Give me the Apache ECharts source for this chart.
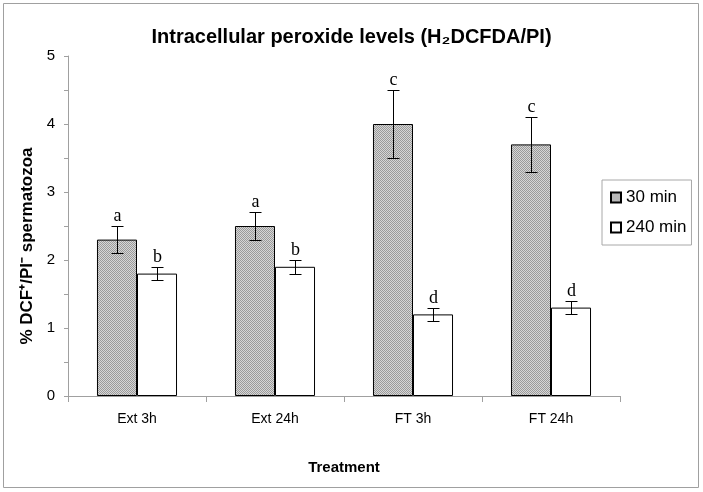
<!DOCTYPE html>
<html><head><meta charset="utf-8">
<script src="https://cdn.jsdelivr.net/npm/echarts@6/dist/echarts.min.js"></script>
<style>html,body{margin:0;padding:0;background:#fff}#c{width:703px;height:492px}</style>
</head><body><div id="c"></div>
<script>
const categories = ['Ext 3h', 'Ext 24h', 'FT 3h', 'FT 24h'];
const seriesNames = ['30 min', '240 min'];
const values30 = [2.3, 2.5, 4.0, 3.7];
const values240 = [1.8, 1.9, 1.2, 1.3];
const err30 = [0.2, 0.2, 0.5, 0.4];
const err240 = [0.1, 0.1, 0.1, 0.1];
const letters30 = ['a', 'a', 'c', 'c'];
const letters240 = ['b', 'b', 'd', 'd'];
const yMin = 0, yMax = 5;
const yAxisTitle = '% DCF⁺/PI⁻ spermatozoa';

const BAR_FRAC = 0.29;
const FONT = '"Liberation Sans", Arial, sans-serif';

const pc = document.createElement('canvas');
pc.width = 2; pc.height = 2;
const pctx = pc.getContext('2d');
pctx.fillStyle = '#d6d6d6'; pctx.fillRect(0, 0, 2, 2);
pctx.fillStyle = '#9a9a9a'; pctx.fillRect(0, 0, 1, 1); pctx.fillRect(1, 1, 1, 1);
const pattern = { image: pc, repeat: 'repeat' };

function errSeries(vals, errs, letters, sign) {
  return {
    type: 'custom', z: 10, silent: true,
    data: vals.map((v, i) => [i, v, errs[i]]),
    renderItem(params, api) {
      const i = api.value(0), v = api.value(1), e = api.value(2);
      const band = api.size([1, 0])[0];
      const off = sign * band * BAR_FRAC / 2;
      const top = api.coord([i, v + e]);
      const bot = api.coord([i, v - e]);
      const x = Math.round(top[0] + off) + 0.5;
      const yt = Math.round(top[1]) + 0.5, yb = Math.round(bot[1]) + 0.5;
      const st = { stroke: '#000', lineWidth: 1 };
      return {
        type: 'group', children: [
          { type: 'line', shape: { x1: x, y1: yt, x2: x, y2: yb }, style: st },
          { type: 'line', shape: { x1: x - 6, y1: yt, x2: x + 6, y2: yt }, style: st },
          { type: 'line', shape: { x1: x - 6, y1: yb, x2: x + 6, y2: yb }, style: st },
          { type: 'text', style: { text: letters[params.dataIndex], x: x, y: yt - 1, align: 'center', verticalAlign: 'bottom', font: '18px "Liberation Serif", "Times New Roman", serif', fill: '#000' } }
        ]
      };
    }
  };
}

const chart = echarts.init(document.getElementById('c'), null, { renderer: 'canvas' });
chart.setOption({
  backgroundColor: '#fff',
  animation: false,
  title: {
    text: 'Intracellular peroxide levels (H₂DCFDA/PI)',
    left: 'center', top: 22,
    textStyle: { fontFamily: FONT, fontSize: 20, fontWeight: 'bold', color: '#000' }
  },
  graphic: [
    {
      type: 'rect', shape: { x: 3.5, y: 3.5, width: 695, height: 484 },
      style: { fill: 'none', stroke: '#a0a0a0', lineWidth: 1 }, silent: true
    },
    {
      type: 'text', x: 27, y: 246, rotation: Math.PI / 2,
      style: { text: yAxisTitle, align: 'center', verticalAlign: 'middle', font: 'bold 17px ' + FONT, fill: '#000' },
      silent: true
    }
  ],
  legend: {
    data: seriesNames,
    orient: 'vertical', left: 602, top: 180,
    padding: [9, 5, 9, 8],
    itemGap: 13, itemWidth: 10, itemHeight: 10,
    borderColor: '#a8a8a8', borderWidth: 1,
    textStyle: { fontFamily: FONT, fontSize: 17, color: '#000' },
    icon: 'rect'
  },
  grid: { left: 68, right: 83, top: 56, bottom: 96 },
  xAxis: {
    type: 'category', data: categories,
    name: 'Treatment', nameLocation: 'middle', nameGap: 64,
    nameTextStyle: { fontFamily: FONT, fontSize: 15, fontWeight: 'bold', color: '#000' },
    axisLine: { lineStyle: { color: '#a0a0a0', width: 1 } },
    axisTick: { show: true, length: 6, lineStyle: { color: '#a0a0a0' } },
    axisLabel: { fontFamily: FONT, fontSize: 14, color: '#000', margin: 16 }
  },
  yAxis: {
    type: 'value', min: yMin, max: yMax, interval: 0.5,
    axisLine: { show: true, lineStyle: { color: '#a0a0a0', width: 1 } },
    axisTick: { show: true, length: 4, lineStyle: { color: '#a0a0a0' } },
    axisLabel: {
      fontFamily: FONT, fontSize: 15, color: '#000', margin: 13,
      formatter: v => (Number.isInteger(v) ? String(v) : '')
    },
    splitLine: { show: false }
  },
  series: [
    {
      name: seriesNames[0], type: 'bar', data: values30,
      barWidth: (BAR_FRAC * 100) + '%', barGap: '0%',
      itemStyle: { color: pattern, borderColor: '#000', borderWidth: 1 }
    },
    {
      name: seriesNames[1], type: 'bar', data: values240,
      barWidth: (BAR_FRAC * 100) + '%', barGap: '0%',
      itemStyle: { color: '#fff', borderColor: '#000', borderWidth: 1 }
    },
    errSeries(values30, err30, letters30, -1),
    errSeries(values240, err240, letters240, 1)
  ]
});
</script>
</body></html>
